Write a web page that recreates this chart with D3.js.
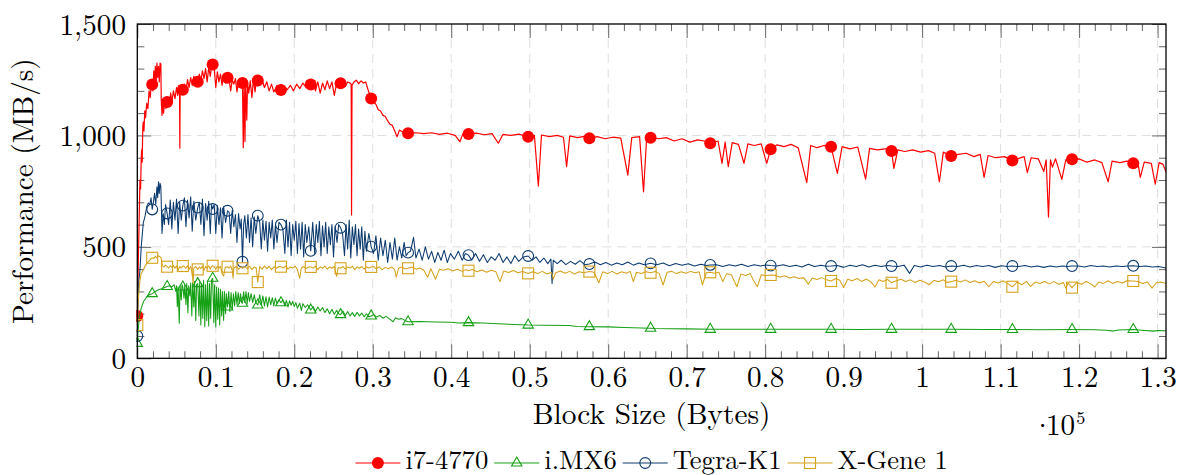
<!DOCTYPE html>
<html>
<head>
<meta charset="utf-8">
<script src="https://cdn.jsdelivr.net/npm/d3@7"></script>
<style>
  body { margin: 0; background: #fff; }
</style>
</head>
<body>
<svg width="1185" height="475"></svg>
<script>
// x values are in thousands of bytes, y values in MB/s
var seriesNames = ['i7-4770', 'i.MX6', 'Tegra-K1', 'X-Gene 1'];
var seriesColors = ['#ff0000', '#16a016', '#0b3a6f', '#d6a21c'];

var xMajorTicks = [0, 10, 20, 30, 40, 50, 60, 70, 80, 90, 100, 110, 120, 130];
var yMajorTicks = [0, 500, 1000, 1500];

var i7Marks = [[0,190],[1.9,1229],[3.8,1150],[5.8,1205],[7.7,1241],[9.6,1318],[11.5,1259],[13.4,1235],[15.35,1246],[18.3,1204],[22.1,1229],[25.9,1234],[29.8,1166],[34.5,1010],[42.2,1006],[49.8,994],[57.6,987],[65.4,990],[73.0,965],[80.7,938],[88.4,949],[96.1,930],[103.7,908],[111.5,887],[119.1,893],[126.9,875]];
var i7Line = [[0.05,260],[0.12,420],[0.2,560],[0.28,700],[0.34,800],[0.42,760],[0.5,900],[0.56,935],[0.62,880],[0.7,1040],[0.76,1060],[0.85,1020],[0.95,1110],[1.05,1080],[1.2,1144],[1.35,1120],[1.5,1200],[1.65,1170],[1.75,1215],
  [2.0,1200],[2.1,1290],[2.2,1230],[2.3,1310],[2.4,1240],[2.5,1325],[2.6,1260],[2.7,1310],[2.8,1240],[2.9,1325],[3.0,1320],[3.05,1160],[3.15,1090],[3.25,1150],[3.35,1100],[3.5,1160],[3.65,1120],
  [3.95,1170],[4.1,1140],[4.25,1190],[4.4,1150],[4.6,1200],[4.8,1165],[5.0,1215],[5.15,1180],[5.3,1225],[5.38,1200],[5.42,943],[5.46,1200],[5.6,1190],
  [6.0,1230],[6.2,1200],[6.4,1250],[6.6,1215],[6.8,1260],[7.0,1225],[7.2,1265],[7.45,1230],
  [7.9,1275],[8.1,1245],[8.3,1290],[8.5,1255],[8.7,1300],[8.9,1240],[9.1,1305],[9.3,1265],[9.45,1310],
  [9.8,1300],[10.0,1215],[10.2,1285],[10.4,1240],[10.6,1275],[10.8,1225],[11.0,1265],[11.25,1235],
  [11.7,1250],[11.9,1200],[12.1,1250],[12.3,1230],[12.5,1255],[12.7,1195],[12.9,1245],[13.1,1215],[13.25,1240],
  [13.5,945],[13.6,1230],[13.72,972],[13.8,1235],[13.95,1069],[14.05,1240],[14.2,1190],[14.4,1245],[14.6,1170],[14.8,1250],[15.0,1195],[15.2,1255],
  [15.6,1230],[15.9,1250],[16.2,1215],[16.5,1240],[16.8,1200],[17.1,1230],[17.4,1195],[17.8,1225],[18.05,1210],
  [18.7,1220],[19.1,1205],[19.5,1225],[19.9,1200],[20.3,1230],[20.7,1210],[21.1,1235],[21.5,1215],[21.8,1240],
  [22.4,1245],[22.7,1200],[23.0,1240],[23.3,1190],[23.6,1235],[23.9,1205],[24.2,1245],[24.5,1210],[24.8,1240],[25.1,1180],[25.4,1235],[25.65,1225],
  [26.2,1240],[26.5,1220],[26.8,1240],[27.1,1235],[27.25,1230],[27.3,643],[27.36,1225],[27.6,1240],[27.9,1248],[28.2,1232],[28.5,1245],[28.8,1235],[29.1,1240],[29.4,1205],
  [30.1,1150],[30.4,1140],[30.7,1115],[31.0,1110],[31.3,1090],[31.6,1085],[31.9,1065],[32.2,1050],[32.5,1045],[32.8,1020],[33.1,994],[33.4,1024],[33.8,1015],[34.2,1018],
  [35.5,1012],[36.5,1008],[37.5,1012],[38.5,1005],[39.5,1010],[40.5,1000],[41.1,972],[41.5,1008],
  [43.2,1010],[44.2,1003],[45.2,1008],[46.0,965],[46.6,1005],[47.6,1000],[48.6,1006],
  [50.6,1000],[51.1,773],[51.5,1002],[52.5,995],[53.5,1000],[54.3,992],[54.7,860],[55.1,998],[56.1,990],[56.9,996],
  [58.6,995],[59.6,985],[60.6,992],[61.6,988],[62.5,822],[63.0,990],[64.0,995],[64.5,747],[64.9,990],
  [66.4,985],[67.4,990],[68.4,975],[69.4,985],[70.4,970],[71.4,980],[72.2,975],
  [74.0,975],[74.5,875],[74.9,970],[75.3,860],[75.8,968],[76.6,960],[77.3,875],[77.8,962],[78.6,955],[79.5,962],[80.2,875],
  [81.5,958],[82.4,950],[83.3,960],[84.2,945],[85.3,788],[85.8,955],[86.6,945],[87.5,955],
  [89.2,830],[89.8,950],[90.8,940],[91.8,948],[92.8,804],[93.3,942],[94.3,935],[95.3,940],
  [96.4,852],[96.9,935],[97.8,928],[98.8,935],[99.8,925],[100.8,932],[101.6,920],[102.2,792],[102.7,925],
  [104.6,915],[105.6,920],[106.6,905],[107.4,915],[107.9,812],[108.4,910],[109.4,900],[110.5,905],
  [112.4,898],[113.0,905],[113.4,833],[113.9,900],[114.8,895],[115.5,838],[115.8,890],[116.1,633],[116.35,890],[116.6,858],[117.0,895],[117.8,803],[118.3,890],
  [120.0,895],[121.0,880],[122.0,890],[122.9,878],[123.7,792],[124.2,885],[125.2,878],[126.1,885],
  [127.5,875],[127.8,812],[128.3,880],[129.2,875],[129.7,781],[130.2,878],[130.7,870],[131.07,837]];

var imxMarks = [[0,67],[1.9,290],[3.8,322],[5.8,320],[7.7,335],[9.6,359],[11.5,230],[13.4,247],[15.35,239],[18.3,249],[22.1,217],[25.9,196],[29.8,190],[34.5,164],[42.2,160],[49.8,149],[57.6,142],[65.4,135],[73.0,130],[80.7,130],[88.4,130],[96.1,130],[103.7,130],[111.5,129],[119.1,129],[126.9,129]];
var imxLine = [[0.1,120],[0.25,180],[0.5,225],[0.8,255],[1.2,275],[1.5,285],
  [2.3,300],[2.7,308],[3.1,312],[3.5,318],
  [4.1,325],[4.4,320],[4.7,330],[4.9,300],[5.0,325],[5.1,231],[5.2,320],[5.35,157],[5.45,325],[5.6,262],[5.7,330],
  [5.95,270],[6.05,330],[6.2,240],[6.3,335],[6.45,203],[6.55,325],[6.7,280],[6.8,338],[6.95,190],[7.05,340],[7.2,230],[7.3,345],[7.45,170],[7.55,330],
  [7.85,190],[7.95,340],[8.1,150],[8.2,335],[8.35,180],[8.45,350],[8.6,142],[8.7,330],[8.85,170],[8.95,345],[9.1,145],[9.2,335],[9.35,180],[9.45,350],
  [9.75,160],[9.85,330],[10.0,140],[10.1,320],[10.25,175],[10.35,315],[10.5,150],[10.6,310],[10.75,190],[10.85,300],[11.0,170],[11.1,300],[11.25,200],[11.35,290],
  [11.65,300],[11.8,210],[11.95,295],[12.1,220],[12.25,290],[12.4,235],[12.55,300],[12.7,240],[12.85,295],[13.0,245],[13.15,290],[13.3,250],
  [13.55,299],[13.7,250],[13.85,300],[14.0,245],[14.15,295],[14.3,255],[14.5,290],[14.7,250],[14.9,285],[15.1,250],
  [15.6,285],[15.8,240],[16.0,280],[16.2,235],[16.4,276],[16.6,230],[16.8,275],[17.0,240],[17.2,272],[17.4,235],[17.6,270],[17.8,245],[18.05,262],
  [18.55,262],[18.8,235],[19.0,260],[19.2,230],[19.4,258],[19.6,238],[19.8,255],[20.0,232],[20.2,250],[20.4,225],[20.7,247],[20.9,215],[21.1,245],[21.4,228],[21.7,240],
  [22.4,232],[22.7,210],[23.0,230],[23.3,212],[23.6,228],[23.9,205],[24.2,222],[24.5,200],[24.8,220],[25.1,198],[25.4,215],[25.65,200],
  [26.2,212],[26.5,192],[26.8,210],[27.1,190],[27.4,205],[27.7,188],[28.0,206],[28.3,190],[28.6,203],[28.9,186],[29.2,200],[29.5,186],
  [30.1,196],[30.5,185],[30.9,192],[31.3,180],[31.7,188],[32.1,178],[32.6,164],[32.9,182],[33.3,175],[33.7,178],[34.1,170],
  [36,165],[38,163],[40,162],[41,158],[44,158],[46,155],[48,152],[52,148],[55,147],[56,143],[60,141],[62,138],[66,134],[70,132],
  [76,130],[84,130],[92,129.5],[100,130],[108,129],[115,128],[122,128],[123.5,126],[124.4,122],[125,127],[128,126],[129.5,122],[130,125],[131.07,124]];

var tegraMarks = [[0,100],[1.9,668],[3.8,650],[5.8,685],[7.7,676],[9.6,670],[11.5,662],[13.4,433],[15.35,640],[18.3,600],[22.1,482],[25.9,586],[29.8,501],[34.5,474],[42.2,463],[49.8,459],[57.6,423],[65.4,426],[73.0,419],[80.7,416],[88.4,414],[96.1,414],[103.7,414],[111.5,414],[119.1,414],[126.9,415]];
var tegraLine = [[0.08,220],[0.2,350],[0.34,396],[0.5,500],[0.76,607],[1.0,640],[1.2,680],[1.4,697],[1.6,690],[1.75,720],
  [2.05,700],[2.2,740],[2.35,690],[2.5,770],[2.6,720],[2.7,792],[2.8,740],[2.9,785],[3.0,770],[3.15,560],[3.3,650],[3.45,600],[3.6,690],
  [4.0,600],[4.2,710],[4.4,580],[4.6,700],[4.8,620],[5.0,715],[5.2,560],[5.4,700],[5.6,620],
  [6.0,720],[6.2,590],[6.4,710],[6.6,630],[6.8,725],[7.0,570],[7.2,705],[7.45,620],
  [7.9,700],[8.1,600],[8.3,715],[8.5,550],[8.7,695],[8.9,620],[9.1,705],[9.3,560],[9.45,690],
  [9.8,690],[10.0,560],[10.2,685],[10.4,600],[10.6,675],[10.8,540],[11.0,680],[11.25,610],
  [11.7,655],[11.9,560],[12.1,665],[12.3,590],[12.5,645],[12.7,520],[12.9,650],[13.1,580],[13.25,625],
  [13.55,600],[13.7,640],[13.9,540],[14.1,645],[14.3,520],[14.5,630],[14.7,500],[14.9,635],[15.1,560],
  [15.6,610],[15.8,490],[16.0,620],[16.2,530],[16.4,615],[16.6,480],[16.8,610],[17.0,540],[17.2,620],[17.4,490],[17.6,600],[17.8,520],[18.05,610],
  [18.55,580],[18.8,470],[19.0,620],[19.2,500],[19.4,610],[19.6,460],[19.8,600],[20.0,530],[20.2,615],[20.4,470],[20.6,605],[20.8,490],[21.0,610],[21.2,455],[21.4,600],[21.6,520],[21.85,590],
  [22.35,610],[22.6,470],[22.8,600],[23.0,520],[23.2,615],[23.4,460],[23.6,595],[23.8,500],[24.0,610],[24.2,470],[24.4,590],[24.6,510],[24.8,600],[25.0,455],[25.2,590],[25.45,520],[25.65,600],
  [26.15,560],[26.4,460],[26.6,600],[26.8,490],[27.0,620],[27.2,450],[27.4,590],[27.6,510],[27.8,600],[28.0,460],[28.2,580],[28.4,490],[28.6,590],[28.8,440],[29.0,570],[29.2,480],[29.5,560],
  [30.1,470],[30.4,550],[30.7,440],[31.0,540],[31.3,460],[31.6,530],[31.9,430],[32.2,520],[32.5,445],[32.8,540],[33.1,440],[33.4,500],[33.7,450],[34.0,520],[34.25,460],
  [34.8,480],[35.2,543],[35.5,450],[35.9,490],[36.3,440],[36.7,500],[37.1,445],[37.5,480],[37.9,430],[38.3,475],[38.7,440],[39.1,485],[39.5,430],[39.9,470],[40.4,445],[40.9,480],[41.4,440],[41.8,470],
  [42.6,440],[43.1,470],[43.6,435],[44.1,465],[44.6,430],[45.1,455],[45.6,440],[46.1,470],[46.6,430],[47.1,455],[47.6,425],[48.1,460],[48.6,435],[49.2,455],
  [50.3,440],[50.8,455],[51.3,430],[51.8,450],[52.3,425],[52.7,445],[52.85,336],[53.0,440],[53.5,425],[54.0,440],[54.6,420],[55.2,435],[55.8,422],[56.4,438],[57.0,420],
  [58.3,432],[59.0,420],[59.7,430],[60.4,418],[61.1,428],[61.8,420],[62.5,432],[63.2,418],[63.9,428],[64.6,420],
  [66.2,420],[67.0,428],[67.8,415],[68.6,425],[69.4,418],[70.2,424],[71.0,414],[71.8,422],[72.5,416],
  [73.8,420],[74.6,412],[75.4,420],[76.2,414],[77.0,422],[77.8,412],[78.6,420],[79.4,414],[80.1,419],
  [81.5,414],[82.3,420],[83.1,412],[83.9,418],[84.7,410],[85.5,422],[86.3,412],[87.1,418],[87.8,413],
  [89.2,416],[90.0,408],[90.8,418],[91.6,412],[92.4,420],[93.2,410],[94.0,418],[94.8,412],[95.5,416],
  [96.9,412],[97.7,418],[98.4,381],[99.0,416],[99.8,410],[100.6,418],[101.4,412],[102.2,416],[103.0,410],
  [104.5,412],[105.3,418],[106.1,410],[106.9,416],[107.7,412],[108.5,416],[109.3,408],[110.1,415],[110.8,412],
  [112.3,412],[113.1,416],[113.9,410],[114.7,414],[115.5,408],[116.3,414],[117.1,410],[117.9,414],[118.5,412],
  [119.9,414],[120.7,410],[121.5,416],[122.3,412],[123.1,414],[123.9,410],[124.7,414],[125.5,412],[126.2,414],
  [127.7,412],[128.5,414],[129.3,410],[130.1,412],[131.07,405]];

var xgeneMarks = [[0,149],[1.9,451],[3.8,411],[5.8,414],[7.7,399],[9.6,415],[11.5,411],[13.4,404],[15.35,342],[18.3,411],[22.1,410],[25.9,404],[29.8,410],[34.5,404],[42.2,393],[49.8,381],[57.6,389],[65.4,384],[73.0,386],[80.7,374],[88.4,347],[96.1,339],[103.7,344],[111.5,321],[119.1,317],[126.9,347]];
var xgeneLine = [[0.1,250],[0.25,320],[0.34,351],[0.5,380],[0.76,396],[1.0,415],[1.4,433],[1.7,445],
  [2.1,448],[2.3,458],[2.5,450],[2.7,460],[2.9,455],[3.05,450],[3.2,415],[3.4,410],[3.6,418],
  [4.0,405],[4.2,415],[4.4,408],[4.6,416],[4.8,404],[5.0,414],[5.2,395],[5.4,412],[5.6,405],
  [6.0,412],[6.2,404],[6.4,416],[6.6,400],[6.8,412],[7.0,380],[7.1,336],[7.2,405],[7.45,412],
  [7.9,410],[8.1,402],[8.3,414],[8.5,395],[8.7,412],[8.9,405],[9.1,415],[9.3,400],[9.45,412],
  [9.8,410],[10.0,400],[10.2,412],[10.4,405],[10.6,413],[10.8,380],[11.0,369],[11.2,408],
  [11.7,405],[11.9,414],[12.1,395],[12.2,359],[12.3,405],[12.6,412],[12.9,400],[13.2,410],
  [13.7,412],[14.0,402],[14.3,414],[14.6,398],[14.9,410],[15.15,405],
  [15.6,412],[15.9,400],[16.2,414],[16.5,402],[16.8,412],[17.1,398],[17.4,410],[17.7,404],[18.05,412],
  [18.6,405],[18.9,414],[19.2,400],[19.5,410],[19.8,405],[20.1,414],[20.4,398],[20.7,359],[20.9,405],[21.2,412],[21.5,402],[21.8,410],
  [22.4,405],[22.7,414],[23.0,398],[23.3,410],[23.6,404],[23.9,414],[24.2,400],[24.5,410],[24.8,404],[25.1,412],[25.4,368],[25.6,408],
  [26.2,412],[26.5,400],[26.8,410],[27.1,405],[27.4,414],[27.7,398],[28.0,410],[28.3,404],[28.6,412],[28.9,400],[29.2,410],[29.5,405],
  [30.1,412],[30.4,402],[30.8,410],[31.2,398],[31.6,408],[32.0,402],[32.4,410],[32.8,398],[33.0,364],[33.3,405],[33.7,410],[34.1,402],
  [35.0,410],[35.5,400],[36.0,405],[36.5,395],[37.0,364],[37.4,402],[38.0,355],[38.5,400],[39.0,395],[39.6,402],[40.2,392],[40.8,400],[41.4,390],[41.8,398],
  [42.7,398],[43.3,388],[43.9,396],[44.5,386],[45.1,395],[45.7,388],[46.2,344],[46.7,392],[47.3,385],[47.9,394],[48.5,384],[49.1,390],
  [50.4,388],[51.0,380],[51.6,390],[52.2,378],[52.8,386],[53.0,355],[53.3,384],[53.9,392],[54.5,382],[55.1,390],[55.7,378],[56.3,388],[56.9,384],
  [58.2,386],[58.8,339],[59.3,388],[59.9,380],[60.5,390],[61.1,378],[61.7,388],[62.3,382],[62.8,390],[63.2,344],[63.6,386],[64.2,380],[64.8,388],
  [66.0,390],[66.5,380],[67.0,329],[67.5,386],[68.1,390],[68.7,380],[69.3,388],[69.9,382],[70.5,390],[71.1,384],[71.6,388],[72.0,329],[72.5,384],
  [73.6,382],[74.1,386],[74.6,344],[75.1,380],[75.7,374],[76.4,321],[76.9,378],[77.5,372],[78.1,380],[78.5,350],[79.0,321],[79.5,375],[80.1,370],
  [81.3,372],[81.9,365],[82.5,370],[83.1,360],[83.7,366],[84.3,358],[84.9,362],[85.5,333],[86.0,360],[86.6,354],[87.2,362],[87.8,352],
  [89.0,358],[89.5,350],[90.0,318],[90.5,355],[91.1,348],[91.7,358],[92.3,345],[92.9,356],[93.5,342],[94.0,320],[94.5,352],[95.0,345],[95.6,354],
  [96.7,348],[97.3,355],[97.9,345],[98.5,352],[99.1,340],[99.7,350],[100.3,342],[100.9,330],[101.5,350],[102.1,344],[102.7,352],[103.2,340],
  [104.3,350],[104.9,342],[105.5,352],[106.1,340],[106.7,348],[107.3,338],[107.9,346],[108.5,321],[109.1,345],[109.7,338],[110.3,348],[110.9,335],
  [112.1,342],[112.7,330],[113.3,345],[113.8,322],[114.4,342],[115.0,336],[115.6,345],[116.2,334],[116.8,344],[117.4,332],[118.0,340],[118.3,315],[118.6,338],
  [119.7,340],[120.3,332],[120.9,345],[121.5,334],[122.0,320],[122.5,342],[123.1,336],[123.7,348],[124.3,336],[124.9,345],[125.5,338],[126.1,348],
  [127.5,345],[128.1,336],[128.7,342],[129.3,315],[129.8,338],[130.4,342],[131.07,336]];

var seriesLines = [i7Line, imxLine, tegraLine, xgeneLine];
var seriesMarks = [i7Marks, imxMarks, tegraMarks, xgeneMarks];
var markShapes = ['dot', 'triangle', 'circle', 'square'];

// pick the first serif face that is really installed
var ctx = document.createElement('canvas').getContext('2d');
function pickFont(cands) {
    var sample = 'Block Size (Bytes) 1,500 0.123 Wgi';
    for (var i = 0; i < cands.length; i++) {
        var found = ['monospace', 'sans-serif'].some(function(base) {
            ctx.font = '30px ' + base;
            var w0 = ctx.measureText(sample).width;
            ctx.font = '30px "' + cands[i] + '", ' + base;
            return Math.abs(ctx.measureText(sample).width - w0) > 0.5;
        });
        if (found) return '"' + cands[i] + '", serif';
    }
    return 'serif';
}
var fontFamily = pickFont(['Latin Modern Roman', 'CMU Serif', 'Liberation Serif', 'DejaVu Serif', 'Noto Serif',
    'Tinos', 'Times New Roman', 'FreeSerif', 'Nimbus Roman', 'Nimbus Roman No9 L', 'P052', 'C059']);

// font size that gives a text the ink width seen in the reference
function fitSize(str, inkWidth) {
    ctx.font = '100px ' + fontFamily;
    var m = ctx.measureText(str);
    return 100 * inkWidth / (m.actualBoundingBoxLeft + m.actualBoundingBoxRight);
}
function digitAscent(size) {
    ctx.font = size + 'px ' + fontFamily;
    return ctx.measureText('0').actualBoundingBoxAscent;
}
var tickSize = fitSize('1,500', 63);
var xTitleSize = fitSize('Block Size (Bytes)', 234);
var yTitleSize = fitSize('Performance (MB/s)', 262);
var legendSize = fitSize('i7-4770', 81);

var svg = d3.select('svg');
var padding = { t: 24, r: 19, b: 116.7, l: 137.3 };
var chartWidth = 1185 - padding.l - padding.r;
var chartHeight = 475 - padding.t - padding.b;

var chartG = svg.append('g')
    .attr('transform', 'translate(' + [padding.l, padding.t] + ')');

var xScale = d3.scaleLinear().domain([0, 131.072]).range([0, chartWidth]);
var yScale = d3.scaleLinear().domain([0, 1500]).range([chartHeight, 0]);

var xMinorTicks = d3.range(0, 131, 2).filter(function(d) { return d % 10 !== 0; });
var yMinorTicks = d3.range(0, 1501, 100).filter(function(d) { return d % 500 !== 0; });

// grid
chartG.append('g').selectAll('line')
    .data(xMajorTicks.filter(function(d) { return d > 0; }))
    .enter().append('line')
    .attr('x1', function(d) { return xScale(d); })
    .attr('x2', function(d) { return xScale(d); })
    .attr('y1', 0).attr('y2', chartHeight)
    .attr('stroke', '#dedede').attr('stroke-dasharray', '9,6');
chartG.append('g').selectAll('line')
    .data(yMajorTicks.filter(function(d) { return d > 0 && d < 1500; }))
    .enter().append('line')
    .attr('y1', function(d) { return yScale(d); })
    .attr('y2', function(d) { return yScale(d); })
    .attr('x1', 0).attr('x2', chartWidth)
    .attr('stroke', '#dedede').attr('stroke-dasharray', '9,6');

// ticks, pointing inward on all four sides
function styleAxis(g) {
    g.select('.domain').remove();
    g.selectAll('line').attr('stroke', '#666');
    g.attr('font-family', fontFamily).attr('font-size', tickSize);
    g.selectAll('text').attr('fill', '#000');
}
var fmtX = function(d) { return String(+(d / 100).toFixed(1)); };
var asc = digitAscent(tickSize);

var xAxisG = chartG.append('g').attr('transform', 'translate(0,' + chartHeight + ')')
    .call(d3.axisBottom(xScale).tickValues(xMajorTicks).tickSizeInner(-14).tickSizeOuter(0).tickFormat(fmtX))
    .call(styleAxis);
xAxisG.selectAll('text').attr('dy', null).attr('y', 387.3 - padding.t - chartHeight);
chartG.append('g').attr('transform', 'translate(0,' + chartHeight + ')')
    .call(d3.axisBottom(xScale).tickValues(xMinorTicks).tickSizeInner(-7).tickSizeOuter(0).tickFormat(''))
    .call(styleAxis);
chartG.append('g')
    .call(d3.axisTop(xScale).tickValues(xMajorTicks).tickSizeInner(-14).tickSizeOuter(0).tickFormat(''))
    .call(styleAxis);
chartG.append('g')
    .call(d3.axisTop(xScale).tickValues(xMinorTicks).tickSizeInner(-7).tickSizeOuter(0).tickFormat(''))
    .call(styleAxis);
var yAxisG = chartG.append('g')
    .call(d3.axisLeft(yScale).tickValues(yMajorTicks).tickSizeInner(-14).tickSizeOuter(0).tickFormat(d3.format(',')))
    .call(styleAxis);
yAxisG.selectAll('text').attr('dy', null).attr('x', 126 - padding.l).attr('y', asc / 2);
chartG.append('g')
    .call(d3.axisLeft(yScale).tickValues(yMinorTicks).tickSizeInner(-7).tickSizeOuter(0).tickFormat(''))
    .call(styleAxis);
chartG.append('g').attr('transform', 'translate(' + chartWidth + ',0)')
    .call(d3.axisRight(yScale).tickValues(yMajorTicks).tickSizeInner(-14).tickSizeOuter(0).tickFormat(''))
    .call(styleAxis);
chartG.append('g').attr('transform', 'translate(' + chartWidth + ',0)')
    .call(d3.axisRight(yScale).tickValues(yMinorTicks).tickSizeInner(-7).tickSizeOuter(0).tickFormat(''))
    .call(styleAxis);

// clip
svg.append('defs').append('clipPath').attr('id', 'plotClip')
    .append('rect').attr('x', -1).attr('y', -1).attr('width', chartWidth + 2).attr('height', chartHeight + 2);

var line = d3.line()
    .x(function(d) { return xScale(d[0]); })
    .y(function(d) { return yScale(d[1]); });

function drawMark(sel, shape, color) {
    if (shape === 'dot') {
        sel.append('circle').attr('r', 6).attr('fill', color);
    } else if (shape === 'circle') {
        sel.append('circle').attr('r', 5.4).attr('fill', 'none').attr('stroke', color).attr('stroke-width', 1.1);
    } else if (shape === 'square') {
        sel.append('rect').attr('x', -5.5).attr('y', -5.5).attr('width', 11).attr('height', 11)
            .attr('fill', 'none').attr('stroke', color).attr('stroke-width', 1.1);
    } else {
        sel.append('path').attr('d', 'M0,-6L5.2,3L-5.2,3Z')
            .attr('fill', 'none').attr('stroke', color).attr('stroke-width', 1.1);
    }
}

var plotG = chartG.append('g').attr('clip-path', 'url(#plotClip)');
seriesLines.forEach(function(pts, i) {
    var all = pts.concat(seriesMarks[i]).sort(function(a, b) { return a[0] - b[0]; });
    plotG.append('path')
        .datum(all)
        .attr('d', line)
        .attr('fill', 'none')
        .attr('stroke', seriesColors[i])
        .attr('stroke-width', i === 0 ? 1.2 : 1.05)
        .attr('stroke-linejoin', 'round');
    plotG.append('g').selectAll('g')
        .data(seriesMarks[i])
        .enter().append('g')
        .attr('transform', function(d) { return 'translate(' + [xScale(d[0]), yScale(d[1])] + ')'; })
        .each(function() { drawMark(d3.select(this), markShapes[i], seriesColors[i]); });
});

// frame
chartG.append('rect')
    .attr('width', chartWidth).attr('height', chartHeight)
    .attr('fill', 'none').attr('stroke', '#000').attr('stroke-width', 1.3);

// axis titles
var textG = svg.append('g').attr('font-family', fontFamily);
textG.append('text')
    .attr('x', padding.l + chartWidth / 2).attr('y', 424)
    .attr('text-anchor', 'middle').attr('font-size', xTitleSize)
    .text('Block Size (Bytes)');
textG.append('text')
    .attr('transform', 'translate(33,' + (padding.t + chartHeight / 2) + ') rotate(-90)')
    .attr('text-anchor', 'middle').attr('font-size', yTitleSize)
    .text('Performance (MB/s)');
// scale factor label, one text element with placed pieces
var expo = textG.append('text').attr('y', 435).attr('font-size', tickSize);
expo.append('tspan').attr('x', 1042.5).attr('text-anchor', 'middle').text('\u00b7');
expo.append('tspan').attr('x', 1046).attr('text-anchor', 'start').text('10');
expo.append('tspan').attr('font-size', tickSize * 0.62).attr('y', 424).attr('dx', 1).text('5');

// legend
var legendG = textG.append('g');
var lx = 0;
seriesNames.forEach(function(name, i) {
    var item = legendG.append('g').attr('transform', 'translate(' + lx + ',0)');
    item.append('line').attr('x1', 0).attr('x2', 45).attr('y1', 463).attr('y2', 463)
        .attr('stroke', seriesColors[i]).attr('stroke-width', i === 0 ? 1.2 : 1.05);
    var m = item.append('g').attr('transform', 'translate(22.5,463)');
    drawMark(m, markShapes[i], seriesColors[i]);
    var t = item.append('text').attr('x', 50).attr('y', 468.5).attr('font-size', legendSize).text(name);
    lx += 50 + t.node().getComputedTextLength() + 6;
});
var legendWidth = lx - 6;
legendG.attr('transform', 'translate(' + (padding.l + chartWidth / 2 - legendWidth / 2) + ',0)');
</script>
</body>
</html>
